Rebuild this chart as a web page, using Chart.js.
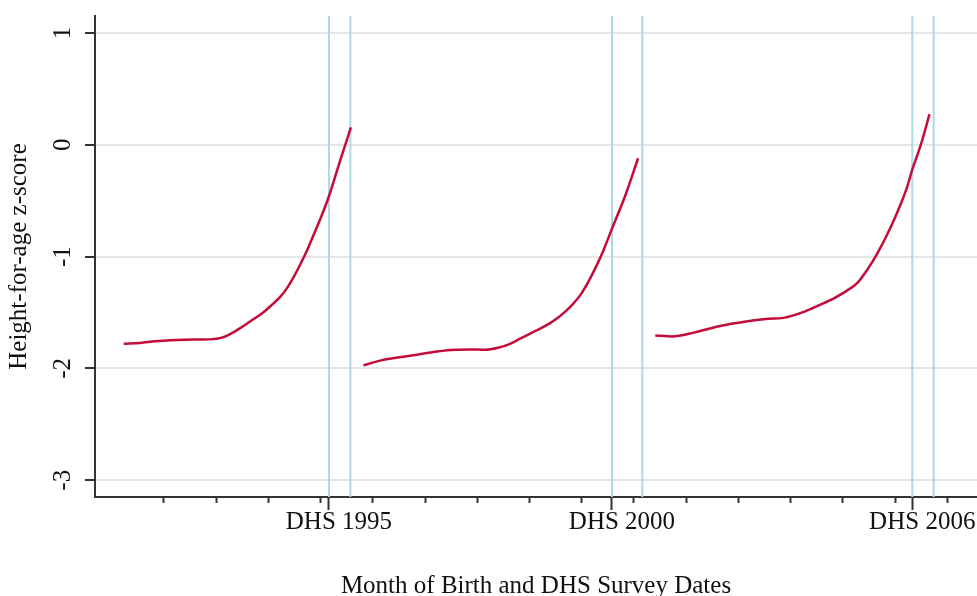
<!DOCTYPE html>
<html>
<head>
<meta charset="utf-8">
<script src="https://cdn.jsdelivr.net/npm/chart.js@4.4.1/dist/chart.umd.min.js"></script>
<style>
  html, body { margin: 0; padding: 0; background: #fff; overflow: hidden; }
  canvas { display: block; }
</style>
</head>
<body>
<canvas id="haz_chart" width="977" height="596"></canvas>
<script>
// month of birth (decimal years) and height-for-age z-score, one curve per survey
const birth_1995 = [1991.23, 1991.54, 1991.83, 1992.12, 1992.40, 1992.69, 1992.94, 1993.11, 1993.26, 1993.46,
                    1993.65, 1993.90, 1994.07, 1994.24, 1994.36, 1994.47, 1994.61, 1994.74, 1994.91, 1995.04,
                    1995.16, 1995.37, 1995.58];
const haz_1995 = [-1.78, -1.772, -1.758, -1.748, -1.743, -1.741, -1.738, -1.725, -1.695, -1.64,
                  -1.58, -1.50, -1.43, -1.354, -1.28, -1.195, -1.07, -0.945, -0.757, -0.61,
                  -0.46, -0.149, 0.155];

const birth_2000 = [1995.82, 1996.14, 1996.52, 1996.87, 1997.23, 1997.58, 1997.86, 1998.15, 1998.40, 1998.63,
                    1998.84, 1999.05, 1999.24, 1999.41, 1999.55, 1999.69, 1999.84, 1999.98, 2000.15, 2000.28,
                    2000.42, 2000.58, 2000.83, 2001.08];
const haz_2000 = [-1.973, -1.93, -1.90, -1.875, -1.848, -1.832, -1.83, -1.833, -1.815, -1.78,
                  -1.73, -1.68, -1.635, -1.59, -1.545, -1.49, -1.42, -1.34, -1.205, -1.085,
                  -0.94, -0.75, -0.46, -0.12];

const birth_2006 = [2001.41, 2001.73, 2002.15, 2002.65, 2003.15, 2003.57, 2003.86, 2004.28, 2004.57, 2004.82,
                    2005.08, 2005.28, 2005.47, 2005.66, 2005.91, 2006.10, 2006.23, 2006.33, 2006.43, 2006.52,
                    2006.66];
const haz_2006 = [-1.705, -1.714, -1.68, -1.62, -1.58, -1.556, -1.548, -1.49, -1.43, -1.375,
                  -1.304, -1.235, -1.116, -0.973, -0.744, -0.54, -0.38, -0.223, -0.089, 0.04,
                  0.274];

// start and end of each survey's fieldwork
const survey_dates = [1995.16, 1995.57, 2000.58, 2001.16, 2006.33, 2006.74];
const survey_ticks = [1995.16, 2000.58, 2006.33];
const survey_labels = ['DHS 1995', 'DHS 2000', 'DHS 2006'];
const year_ticks = [1992, 1993, 1994, 1995, 1996, 1997, 1998, 1999, 2000, 2001, 2002, 2003, 2004, 2005, 2006, 2007];
const z_ticks = [-3, -2, -1, 0, 1];

const x_range = [1990.68, 2007.57];
const y_range = [-3.15, 1.152];

const serif = 'Liberation Serif';
const ink = '#111';
const axis_col = '#333';

const make_line = (xs, ys) => xs.map((x, i) => ({x: x, y: ys[i]}));

const curve = (xs, ys) => ({
    data: make_line(xs, ys),
    borderColor: '#c40c3a',
    borderWidth: 2.5,
    pointRadius: 0,
    cubicInterpolationMode: 'monotone'
});

const survey_line = (d) => ({
    data: [{x: d, y: y_range[0]}, {x: d, y: y_range[1]}],
    borderColor: '#add8e6',
    borderWidth: 2,
    pointRadius: 0
});

const make_chart = () => {
    const ctx = document.getElementById('haz_chart').getContext('2d');
    new Chart(ctx, {
        type: 'line',
        data: {
            datasets: [
                curve(birth_1995, haz_1995),
                curve(birth_2000, haz_2000),
                curve(birth_2006, haz_2006)
            ].concat(survey_dates.map(survey_line))
        },
        options: {
            responsive: false,
            animation: false,
            events: [],
            layout: { padding: { top: 16, left: 0, right: 0, bottom: 0 } },
            plugins: { legend: { display: false }, tooltip: { enabled: false } },
            scales: {
                x: {
                    type: 'linear',
                    min: x_range[0],
                    max: x_range[1],
                    afterBuildTicks: (s) => {
                        s.ticks = year_ticks.concat(survey_ticks).sort((a, b) => a - b).map(v => ({value: v}));
                    },
                    afterFit: (s) => { s.height = 99; s.paddingLeft = 0; s.paddingRight = 0; },
                    ticks: {
                        autoSkip: false,
                        minRotation: 0,
                        maxRotation: 0,
                        labelOffset: 10,
                        padding: 0,
                        color: ink,
                        font: { family: serif, size: 25, lineHeight: 1 },
                        callback: (v) => {
                            const i = survey_ticks.indexOf(v);
                            return i < 0 ? '' : survey_labels[i];
                        }
                    },
                    grid: {
                        drawOnChartArea: false,
                        tickLength: 13,
                        tickWidth: 2,
                        tickColor: axis_col,
                        // year ticks are short, survey ticks long
                        tickBorderDash: (c) => (c.tick && survey_ticks.includes(c.tick.value)) ? [] : [5, 50]
                    },
                    border: { color: axis_col, width: 2 },
                    title: {
                        display: true,
                        text: 'Month of Birth and DHS Survey Dates',
                        color: ink,
                        font: { family: serif, size: 25, lineHeight: 0.8 },
                        padding: { top: 0, bottom: 0 }
                    }
                },
                y: {
                    min: y_range[0],
                    max: y_range[1],
                    afterBuildTicks: (s) => { s.ticks = z_ticks.map(v => ({value: v})); },
                    afterFit: (s) => { s.width = 95; s.paddingTop = 0; s.paddingBottom = 0; },
                    ticks: {
                        minRotation: 90,
                        maxRotation: 90,
                        crossAlign: 'center',
                        padding: 11,
                        color: ink,
                        font: { family: serif, size: 25, lineHeight: 1 },
                        callback: (v) => String(v)
                    },
                    grid: {
                        color: '#e5e5e5',
                        lineWidth: 2,
                        tickLength: 10,
                        tickWidth: 2,
                        tickColor: axis_col
                    },
                    border: { color: axis_col, width: 2 },
                    title: {
                        display: true,
                        text: 'Height-for-age z-score',
                        color: ink,
                        font: { family: serif, size: 25, lineHeight: 1 },
                        padding: { top: 7, bottom: 0 }
                    }
                }
            }
        }
    });
}

make_chart();
</script>
</body>
</html>
